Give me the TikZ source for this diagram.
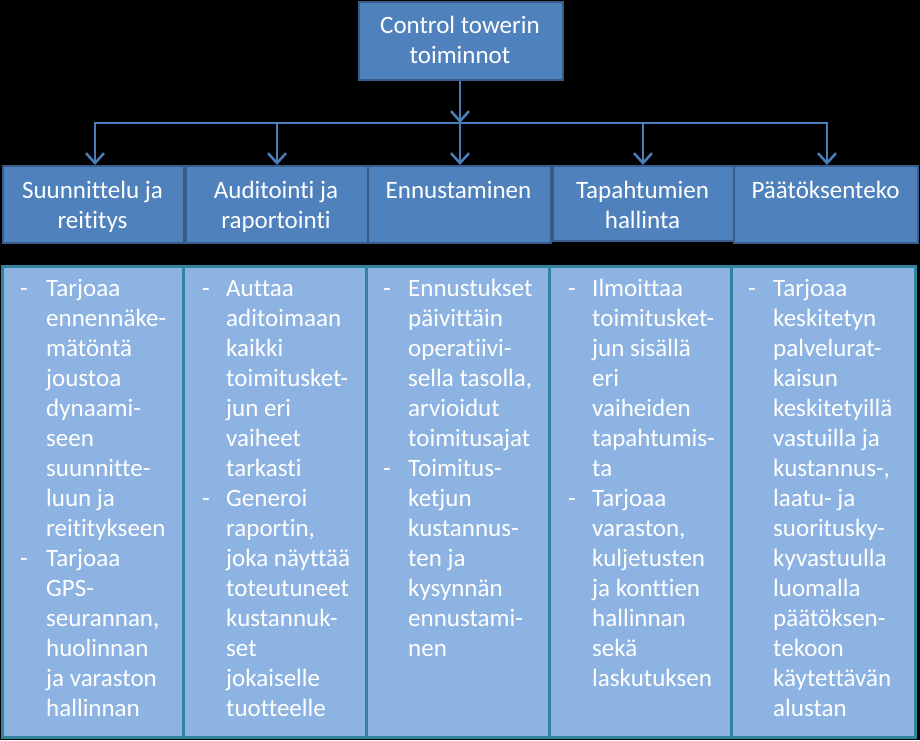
\documentclass[tikz,border=0pt]{standalone}
\usepackage{fontspec}
\setmainfont{Carlito}[Ligatures={NoCommon}]
\usetikzlibrary{arrows.meta}
\definecolor{hdrblue}{HTML}{4F81BD}
\definecolor{hdrborder}{HTML}{385D8A}
\definecolor{colfill}{HTML}{8DB3E2}
\definecolor{tealb}{HTML}{31849B}
\definecolor{connc}{HTML}{4A7EBB}
\tikzset{
  hdrbox/.style={draw=hdrborder, fill=hdrblue, line width=1.5pt, rectangle, inner sep=0pt, anchor=north west},
  colbox/.style={draw=tealb, fill=colfill, line width=2.5pt, rectangle, inner sep=0pt, anchor=north west},
  ttext/.style={text=white, font=\fontsize{25}{30}\selectfont, inner sep=0pt, align=center, anchor=base},
  btext/.style={text=white, font=\fontsize{25}{30}\selectfont, inner sep=0pt, align=left, anchor=base west},
  conn/.style={draw=connc, line width=2.5pt},
  tip/.style={-{Straight Barb[length=10pt,width=18pt,line width=2.5pt]}}
}
\begin{document}
\begin{tikzpicture}[x=1pt,y=-1pt]
\fill[black] (0,0) rectangle (920,740);
\useasboundingbox (0,0) rectangle (920,740);

% top box
\node[hdrbox, minimum width=204pt, minimum height=78pt] (top) at (358,1) {};
\node[ttext] (topt) at (460,63) {Control towerin\\toiminnot};

% header boxes
\node[hdrbox, minimum width=181pt, minimum height=77pt] (h1) at (2,165) {};
\node[hdrbox, minimum width=182pt, minimum height=77pt] (h2) at (185,165) {};
\node[hdrbox, minimum width=183pt, minimum height=77pt] (h3) at (367,165) {};
\node[hdrbox, minimum width=181pt, minimum height=75pt] (h4) at (552,165) {};
\node[hdrbox, minimum width=184pt, minimum height=77pt] (h5) at (733,165) {};

\node[ttext] (h1t) at (92.5,228) {Suunnittelu ja\\reititys};
\node[ttext] (h2t) at (276,228) {Auditointi ja\\raportointi};
\node[ttext] (h3t) at (458.5,198) {Ennustaminen};
\node[ttext] (h4t) at (642.5,228) {Tapahtumien\\hallinta};
\node[ttext] (h5t) at (825.5,198) {Päätöksenteko};

% connectors
\coordinate (j) at (460,123);
\coordinate (c1) at (95,123);
\coordinate (c2) at (277,123);
\coordinate (c4) at (643,123);
\coordinate (c5) at (827,123);
\draw[conn, tip] (top.south -| j) -- (j);
\draw[conn, {Straight Barb[length=10pt,width=18pt,line width=2.5pt]}-{Straight Barb[length=10pt,width=18pt,line width=2.5pt]}]
  (c1 |- h1.north) -- (c1) -- (c5) -- (c5 |- h5.north);
\draw[conn, tip] (c2) -- (c2 |- h2.north);
\draw[conn, tip] (j) -- (j |- h3.north);
\draw[conn, tip] (c4) -- (c4 |- h4.north);

% columns
\node[colbox, minimum width=181pt, minimum height=471pt] (k1) at (1,265) {};
\node[colbox, minimum width=183pt, minimum height=471pt] (k2) at (182,265) {};
\node[colbox, minimum width=183pt, minimum height=471pt] (k3) at (365,265) {};
\node[colbox, minimum width=182pt, minimum height=471pt] (k4) at (548,265) {};
\node[colbox, minimum width=184pt, minimum height=471pt] (k5) at (730,265) {};

% column 1
\node[btext] (d1a) at (20,296) {-};
\node[btext] (b1a) at (46,536) {Tarjoaa\\ennennäke-\\mätöntä\\joustoa\\dynaami-\\seen\\suunnitte-\\luun ja\\reititykseen};
\node[btext] (d1b) at (20,566) {-};
\node[btext] (b1b) at (46,716) {Tarjoaa\\GPS-\\seurannan,\\huolinnan\\ja varaston\\hallinnan};

% column 2
\node[btext] (d2a) at (202,296) {-};
\node[btext] (b2a) at (226,476) {Auttaa\\aditoimaan\\kaikki\\toimitusket-\\jun eri\\vaiheet\\tarkasti};
\node[btext] (d2b) at (202,506) {-};
\node[btext] (b2b) at (226,716) {Generoi\\raportin,\\joka näyttää\\toteutuneet\\kustannuk-\\set\\jokaiselle\\tuotteelle};

% column 3
\node[btext] (d3a) at (383,296) {-};
\node[btext] (b3a) at (408,446) {Ennustukset\\päivittäin\\operatiivi-\\sella tasolla,\\arvioidut\\toimitusajat};
\node[btext] (d3b) at (383,476) {-};
\node[btext] (b3b) at (408,656) {Toimitus-\\ketjun\\kustannus-\\ten ja\\kysynnän\\ennustami-\\nen};

% column 4
\node[btext] (d4a) at (568,296) {-};
\node[btext] (b4a) at (592,476) {Ilmoittaa\\toimitusket-\\jun sisällä\\eri\\vaiheiden\\tapahtumis-\\ta};
\node[btext] (d4b) at (568,506) {-};
\node[btext] (b4b) at (592,686) {Tarjoaa\\varaston,\\kuljetusten\\ja konttien\\hallinnan\\sekä\\laskutuksen};

% column 5
\node[btext] (d5a) at (748,296) {-};
\node[btext] (b5a) at (773,716) {Tarjoaa\\keskitetyn\\palvelurat-\\kaisun\\keskitetyillä\\vastuilla ja\\kustannus-,\\laatu- ja\\suoritusky-\\kyvastuulla\\luomalla\\päätöksen-\\tekoon\\käytettävän\\alustan};
\end{tikzpicture}
\end{document}
